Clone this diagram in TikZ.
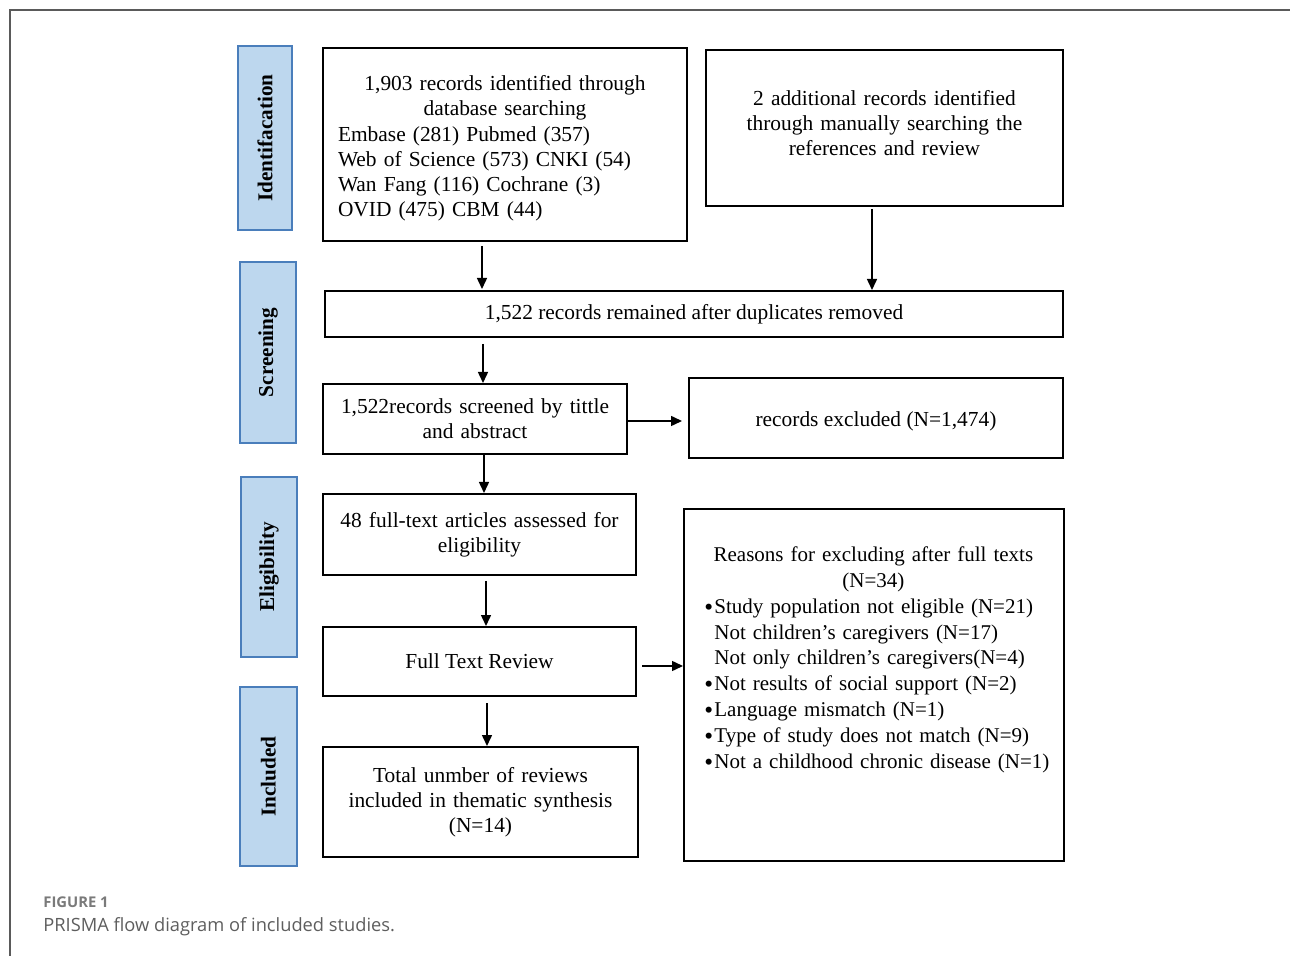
\documentclass[tikz,border=0pt]{standalone}
\usepackage{fontspec}
\usepackage{graphicx}
\setmainfont{Liberation Serif}
\newfontfamily\capfont{Open Sans}
\usetikzlibrary{arrows.meta,calc}
\definecolor{phasefill}{HTML}{BDD7EE}
\definecolor{phasedraw}{HTML}{4A7EBB}
\definecolor{capgray}{HTML}{5E5E5E}
\definecolor{figgray}{HTML}{7A7A7A}
\definecolor{framegray}{HTML}{5A5A5A}
\newcommand{\blt}{\makebox[5pt][l]{\raisebox{-1.1pt}{\scalebox{1.2}{\textbullet}}}}
\begin{document}
\begin{tikzpicture}[x=0.5pt,y=-0.5pt,
  box/.style={draw=black,line width=1pt,inner sep=0pt,align=center,
    font=\fontsize{10.7}{12.6}\selectfont},
  phase/.style={draw=phasedraw,fill=phasefill,line width=1pt,rotate=90,
    inner sep=0pt,font=\fontsize{10.6}{12}\selectfont\bfseries},
  arr/.style={line width=0.75pt,-{Triangle[length=5.5pt,width=5pt]}}]
\useasboundingbox (0,0) rectangle (1290,956);
% frame
\draw[framegray,line width=0.7pt] (10,956) coordinate (fb) -- (10,10) coordinate (fc) -- (1290,10) coordinate (fr);
% phase labels
\node[phase,minimum width=92pt,minimum height=27pt] (p1) at (265,138) {Identifacation};
\node[phase,minimum width=90.5pt,minimum height=28pt] (p2) at (268,352.5) {Screening};
\node[phase,minimum width=90pt,minimum height=28pt] (p3) at (269,567) {Eligibility};
\node[phase,minimum width=89.5pt,minimum height=28.5pt] (p4) at (268.5,776.5) {Included};
% boxes
\node[box,minimum width=182pt,minimum height=96.5pt,text width=167pt] (A) at (505,144.5)
 {\rule{0pt}{11.5pt}1,903 records identified through\\database searching\\
  \makebox[167pt][l]{Embase (281) Pubmed (357)}\\
  \makebox[167pt][l]{Web of Science (573) CNKI (54)}\\
  \makebox[167pt][l]{Wan Fang (116) Cochrane (3)}\\
  \makebox[167pt][l]{OVID (475) CBM (44)}};
\node[box,minimum width=178.5pt,minimum height=78pt,text width=170pt] (B) at (884.5,128)
 {2 additional records identified\\through manually searching the\\references and review\\[-7.6pt]\mbox{}};
\node[box,minimum width=369pt,minimum height=23pt] (C) at (694,314)
 {1,522 records remained after duplicates removed};
\node[box,minimum width=152pt,minimum height=35pt,text width=148pt] (D) at (475,419)
 {1,522records screened by tittle\\and abstract};
\node[box,minimum width=187pt,minimum height=40pt] (E) at (876,418)
 {\rule{0pt}{10.6pt}records excluded (N=1,474)};
\node[box,minimum width=156.5pt,minimum height=40.5pt,text width=150pt] (F) at (479.5,534.5)
 {48 full-text articles assessed for\\eligibility};
\node[box,minimum width=156.5pt,minimum height=34.5pt] (G) at (479.5,661.5)
 {Full Text Review};
\node[box,minimum width=157.5pt,minimum height=55pt,text width=150pt] (H) at (480.5,802)
 {Total unmber of reviews\\included in thematic synthesis\\(N=14)};
\node[box,minimum width=190pt,minimum height=176pt] (I) at (874,685) {};
\node[anchor=north west,align=left,inner sep=0pt,text width=182pt,
  font=\fontsize{10.5}{12.9}\selectfont] (It) at (704,546.5)
 {\makebox[169pt][c]{Reasons for excluding after full texts}\\
  \makebox[169pt][c]{(N=34)}\\
  \blt Study population not eligible (N=21)\\
  \hspace*{5pt}Not children’s caregivers (N=17)\\
  \hspace*{5pt}Not only children’s caregivers(N=4)\\
  \blt Not results of social support (N=2)\\
  \blt Language mismatch (N=1)\\
  \blt Type of study does not match (N=9)\\
  \blt Not a childhood chronic disease (N=1)};
% arrows
\draw[arr,shorten <=2pt,shorten >=0.5pt] ([xshift=-11.5pt]A.south) coordinate (a1) -- (a1 |- C.north);
\draw[arr,shorten <=1pt] ([xshift=-6.25pt]B.south) coordinate (b1) -- (b1 |- C.north);
\draw[arr,shorten <=3pt] ([xshift=-105.5pt]C.south) coordinate (c1) -- (c1 |- D.north);
\draw[arr] ([xshift=4.5pt]D.south) coordinate (d1) -- (d1 |- F.north);
\draw[arr,shorten <=2.5pt] ([xshift=3.25pt]F.south) coordinate (f1) -- (f1 |- G.north);
\draw[arr,shorten <=3pt] ([xshift=3.75pt]G.south) coordinate (g1) -- (g1 |- H.north);
\draw[arr,shorten >=3pt] ([yshift=-1pt]D.east) coordinate (d2) -- (d2 -| E.west);
\draw[arr,shorten <=2.5pt] ([yshift=-2.25pt]G.east) coordinate (g2) -- (g2 -| I.west);
% caption
\node[anchor=base west,inner sep=0pt,text=figgray,font=\capfont\bfseries\fontsize{7.4}{9}\selectfont] (cap1) at (43,907) {FIGURE 1};
\node[anchor=base west,inner sep=0pt,text=capgray,font=\capfont\fontsize{9.14}{11}\selectfont] (cap2) at (43,931) {PRISMA flow diagram of included studies.};
\end{tikzpicture}
\end{document}
